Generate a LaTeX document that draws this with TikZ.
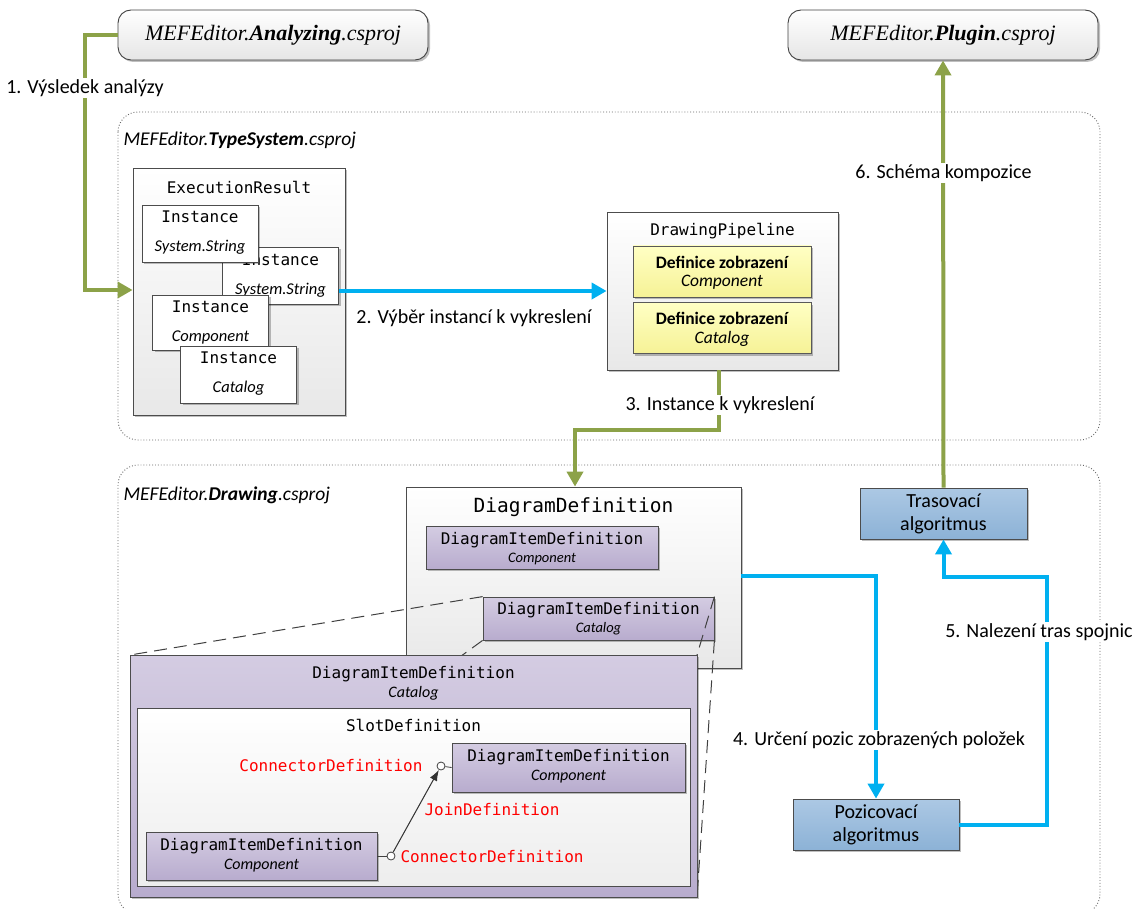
\documentclass[tikz,border=0pt]{standalone}
\usepackage{fontspec}
\setmainfont{Carlito}
\newfontfamily\monof{DejaVu Sans Mono}
\newfontfamily\serf{Liberation Serif}
\usetikzlibrary{arrows.meta,shadows,calc}
\definecolor{agreen}{RGB}{140,162,72}
\definecolor{ablue}{RGB}{0,176,240}
\definecolor{purtop}{RGB}{212,204,226}
\definecolor{purbot}{RGB}{184,172,206}
\definecolor{yeltop}{RGB}{255,255,196}
\definecolor{yelbot}{RGB}{246,242,150}
\definecolor{blutop}{RGB}{172,200,228}
\definecolor{blubot}{RGB}{140,178,214}
\definecolor{redtxt}{RGB}{255,0,0}
\tikzset{
  x=1pt, y=-1pt,
  shad/.style={drop shadow={shadow xshift=2pt, shadow yshift=-2pt, opacity=0.25, fill=black}},
  projbox/.style={draw=black!75, line width=0.9pt, rounded corners=13pt, top color=white, bottom color=black!10, shad, minimum width=310pt, minimum height=50pt},
  projtxt/.style={font=\serf\itshape\fontsize{22}{26}\selectfont},
  container/.style={draw=black!60, dotted, line width=0.9pt, rounded corners=20pt},
  contlbl/.style={anchor=west, font=\itshape\fontsize{19.5}{23}\selectfont},
  graybox/.style={draw=black!70, line width=0.8pt, top color=white, bottom color=black!9, shad, inner sep=0pt},
  instbox/.style={draw=black!70, line width=0.8pt, fill=white, shad, minimum width=116pt, minimum height=57pt, inner sep=0pt},
  yelbox/.style={draw=black!65, line width=0.8pt, top color=yeltop, bottom color=yelbot, shad, minimum width=178pt, minimum height=51pt, inner sep=0pt},
  purbox/.style={draw=black!70, line width=0.8pt, top color=purtop, bottom color=purbot, shad, inner sep=0pt},
  blubox/.style={draw=black!70, line width=0.8pt, top color=blutop, bottom color=blubot, shad, minimum width=167pt, minimum height=51pt, inner sep=0pt},
  mono/.style={font=\monof\fontsize{16}{19}\selectfont},
  bigmono/.style={font=\monof\fontsize{19.5}{23}\selectfont},
  sub/.style={font=\itshape\fontsize{16.5}{19}\selectfont},
  subs/.style={font=\itshape\fontsize{14.5}{17}\selectfont},
  subm/.style={font=\itshape\fontsize{16}{19}\selectfont},
  redmono/.style={font=\monof\fontsize{16}{19}\selectfont, text=redtxt},
  lab/.style={font=\fontsize{20}{23}\selectfont},
  labw/.style={lab, fill=white, inner sep=1.5pt},
  garrow/.style={draw=agreen, line width=4pt, -{Triangle[length=15pt,width=16pt]}},
  barrow/.style={draw=ablue, line width=4pt, -{Triangle[length=15pt,width=16pt]}},
  dline/.style={draw=black!75, line width=1pt, dash pattern=on 13pt off 7pt},
}
\begin{document}
\begin{tikzpicture}
\useasboundingbox (0,0) rectangle (1134,909);

% containers
\draw[container] (118,112) rectangle (1100,440);
\node[contlbl] (tslbl) at (120,140) {MEFEditor.\textbf{TypeSystem}.csproj};
\draw[container] (118,465) rectangle (1100,914);
\node[contlbl] (drlbl) at (120,495) {MEFEditor.\textbf{Drawing}.csproj};

% project boxes
\node[projbox] (anal) at (273,35) {};
\node[projtxt] (analt) at (273,35) {MEFEditor.\textbf{Analyzing}.csproj};
\node[projbox] (plug) at (943,35) {};
\node[projtxt] (plugt) at (943,35) {MEFEditor.\textbf{Plugin}.csproj};

% ExecutionResult
\node[graybox, minimum width=212pt, minimum height=247pt] (exec) at (239,291.5) {};
\node[mono] (exect) at (239,187) {ExecutionResult};
\node[instbox] (i2) at (280.5,275.5) {};
\node[mono] (i2t) at (280.5,260) {Instance};
\node[sub] (i2s) at (280.5,290.5) {System.String};
\node[instbox] (i1) at (200,233.5) {};
\node[mono] (i1t) at (200,217) {Instance};
\node[sub] (i1s) at (200,247) {System.String};
\node[instbox, minimum height=55pt] (i3) at (210.5,322.5) {};
\node[mono] (i3t) at (210.5,307) {Instance};
\node[sub] (i3s) at (210.5,337.5) {Component};
\node[instbox] (i4) at (238.5,374.5) {};
\node[mono] (i4t) at (238.5,358) {Instance};
\node[sub] (i4s) at (238.5,388.5) {Catalog};

% DrawingPipeline
\node[graybox, minimum width=231pt, minimum height=158pt] (pipe) at (722.5,291) {};
\node[mono] (pipet) at (722.5,231) {DrawingPipeline};
\node[yelbox] (y1) at (722,271.5) {};
\node[font=\bfseries\fontsize{17.5}{20}\selectfont] (y1a) at (722,262) {Definice zobrazení};
\node[font=\itshape\fontsize{17.5}{20}\selectfont] (y1b) at (722,282.5) {Component};
\node[yelbox] (y2) at (722,328) {};
\node[font=\bfseries\fontsize{17.5}{20}\selectfont] (y2a) at (722,318.5) {Definice zobrazení};
\node[font=\itshape\fontsize{17.5}{20}\selectfont] (y2b) at (722,339) {Catalog};

% DiagramDefinition
\node[graybox, minimum width=335pt, minimum height=181pt] (dd) at (573.5,577.5) {};
\node[bigmono] (ddt) at (573.5,507) {DiagramDefinition};
\node[purbox, minimum width=232pt, minimum height=43pt] (didc) at (542,547.5) {};
\node[mono] (didct) at (542,540) {DiagramItemDefinition};
\node[subs] (didcs) at (542,558.5) {Component};
\node[purbox, minimum width=231pt, minimum height=43pt] (didk) at (598.5,618.5) {};
\node[mono] (didkt) at (598.5,610) {DiagramItemDefinition};
\node[subs] (didks) at (598.5,629) {Catalog};

% zoom frustum lines
\coordinate (bigTL) at (130,655);
\coordinate (bigTR) at (697,655);
\coordinate (bigBL) at (130,897);
\coordinate (bigBR) at (697,897);
\draw[dline] (didk.north west) -- (bigTL);
\draw[dline] (didk.north east) -- (bigTR);
\draw[dline] (didk.south west) -- (bigBL);
\draw[dline] (didk.south east) -- (bigBR);

% expanded DiagramItemDefinition
\node[purbox, minimum width=567pt, minimum height=242pt] (big) at (413.5,776) {};
\node[mono] (bigt) at (413.5,674) {DiagramItemDefinition};
\node[subm] (bigs) at (413.5,693) {Catalog};
\node[draw=black!70, line width=0.8pt, top color=white, bottom color=black!7, minimum width=553pt, minimum height=178pt, inner sep=0pt] (slot) at (413.5,797) {};
\node[mono] (slott) at (413.5,725) {SlotDefinition};
\node[purbox, minimum width=233pt, minimum height=49pt] (didtr) at (568.5,767.5) {};
\node[mono] (didtrt) at (568.5,757) {DiagramItemDefinition};
\node[subm] (didtrs) at (568.5,777) {Component};
\node[purbox, minimum width=231pt, minimum height=48pt] (didbl) at (261.5,856) {};
\node[mono] (didblt) at (261.5,846) {DiagramItemDefinition};
\node[subm] (didbls) at (261.5,866) {Component};

% connectors
\node[circle, draw=black!75, line width=0.8pt, fill=white, minimum size=8pt, inner sep=0pt] (cb) at (391,856) {};
\node[circle, draw=black!75, line width=0.8pt, fill=white, minimum size=8pt, inner sep=0pt] (ct) at (441,766) {};
\draw[black!75, line width=0.8pt] (didbl.east) -- (cb);
\draw[black!75, line width=0.8pt] (ct) -- (didtr.west);
\draw[black!80, line width=1pt, -{Latex[length=11pt,width=8pt]}] (cb) -- (ct);
\node[redmono, anchor=east] (cdt) at (426,766) {ConnectorDefinition};
\node[redmono, anchor=west] (cdb) at (397,857) {ConnectorDefinition};
\node[redmono, anchor=west] (jd) at (421,810) {JoinDefinition};

% algorithm boxes
\node[blubox] (tras) at (943.5,513.5) {};
\node[lab, align=center] (trast) at (943.5,513.5) {Trasovací\\algoritmus};
\node[blubox, minimum width=166pt] (poz) at (876,824.5) {};
\node[lab, align=center] (pozt) at (876,824.5) {Pozicovací\\algoritmus};

% arrows
\draw[garrow] (anal.west) -- (85,35) -- (85,290) -- (exec.west |- 0,290);
\node[labw] (l1) at (85,88) {1. Výsledek analýzy};

\draw[barrow] (i2.east |- 0,291) -- (pipe.west |- 0,291);
\node[lab] (l2) at (474,318) {2. Výběr instancí k vykreslení};

\draw[garrow] (pipe.south -| 719,0) -- (719,430) -- (575,430) -- (dd.north -| 575,0);
\node[labw] (l3) at (720,405) {3. Instance k vykreslení};

\draw[barrow] (dd.east |- 0,576) -- (876,576) -- (poz.north);
\node[labw] (l4) at (879,740) {4. Určení pozic zobrazených položek};

\draw[barrow] (poz.east) -- (1047,824.5) -- (1047,577) -- (943.5,577) -- (tras.south);
\node[labw] (l5) at (1039,632) {5. Nalezení tras spojnic};

\draw[garrow] (tras.north) -- (plug.south);
\node[labw] (l6) at (943.5,173) {6. Schéma kompozice};
\end{tikzpicture}
\end{document}
